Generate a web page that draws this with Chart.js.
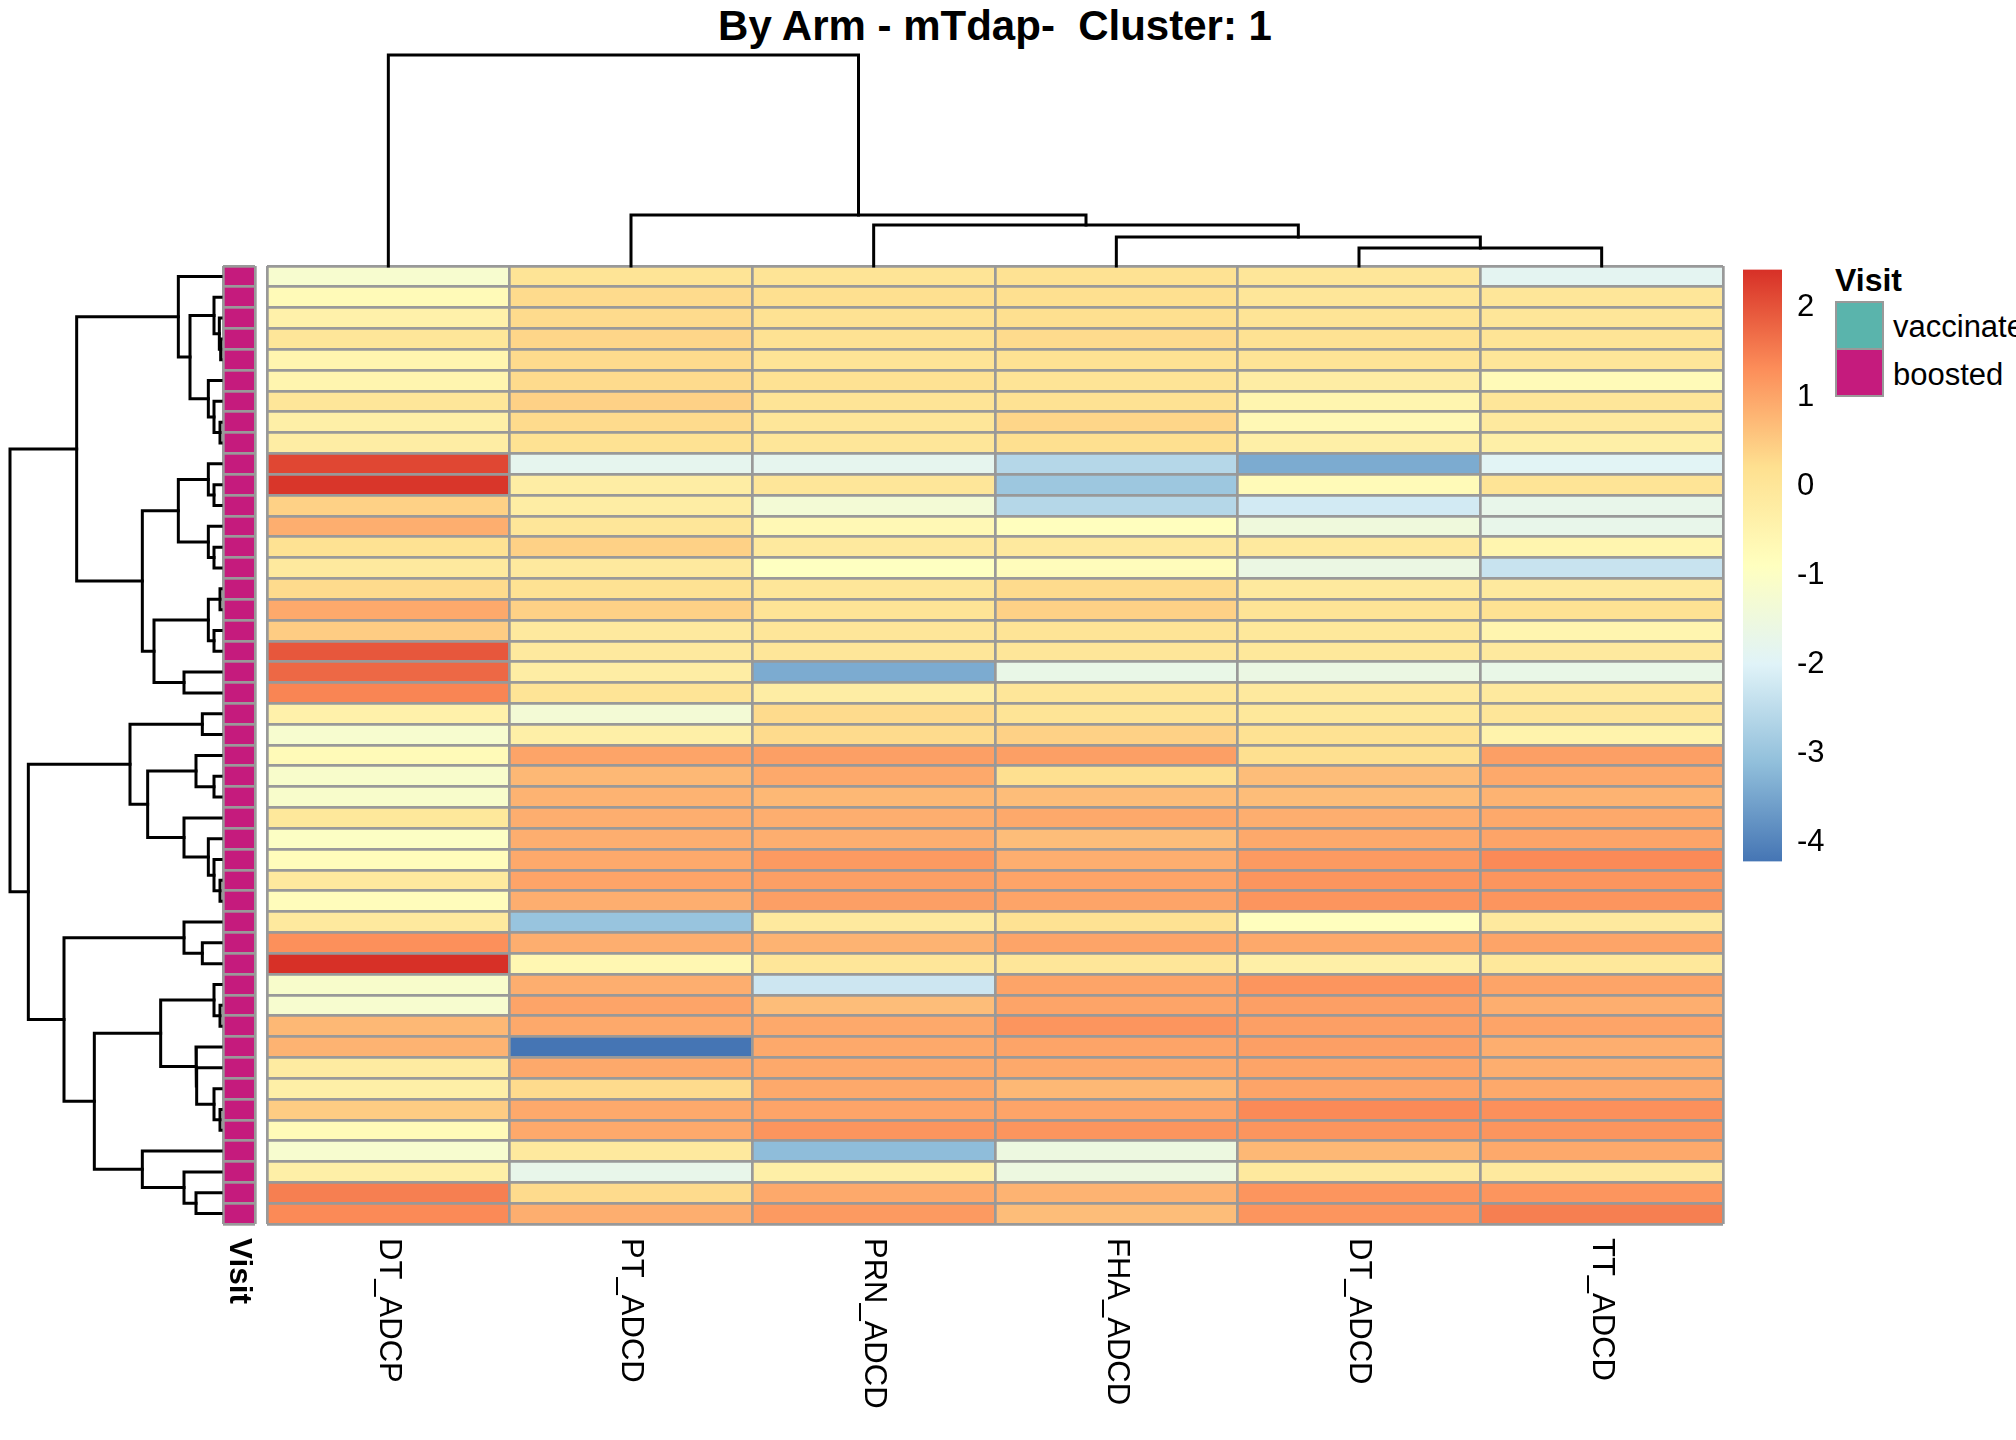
<!DOCTYPE html>
<html>
<head>
<meta charset="utf-8">
<script src="https://cdn.jsdelivr.net/npm/chart.js@4.4.1/dist/chart.umd.min.js"></script>
<style>
  html, body { margin:0; padding:0; background:#fff; width:2016px; height:1440px; overflow:hidden;
    font-family:"Liberation Sans", Arial, Helvetica, sans-serif; color:#000; }
  .box { position:absolute; }
  #title { position:absolute; left:267px; width:1456px; top:4px; text-align:center; font-weight:bold;
    font-size:42px; line-height:44px; white-space:pre; }
  #visitTitle { position:absolute; left:1835px; top:262px; font-weight:bold; font-size:32px; line-height:36px; }
  .key { position:absolute; left:1835px; width:49px; height:49px; box-sizing:border-box; border:2.7px solid #999; }
  .keyLab { position:absolute; left:1893px; font-size:31px; line-height:36px; white-space:nowrap; }
</style>
</head>
<body>
<div id="title">By Arm - mTdap-  Cluster: 1</div>
<div id="visitTitle">Visit</div>
<div class="key" id="keyVac" style="top:301px;"></div>
<div class="key" id="keyBoo" style="top:348px;"></div>
<div class="keyLab" style="top:309px;">vaccinated</div>
<div class="keyLab" style="top:357px;">boosted</div>
<script>
// ---------------- data ----------------
const columns = ['DT_ADCP', 'PT_ADCD', 'PRN_ADCD', 'FHA_ADCD', 'DT_ADCD', 'TT_ADCD'];

const DT_ADCP  = [-1.2,-0.7,-0.4,0.0,-0.55,-0.5,0.0,-0.3,-0.25, 2.15,2.3,0.4,0.85,0.15,-0.15,0.25,0.95,0.5,1.95,
                  1.7,1.4,-0.4,-1.2,-0.7,-1.1,-1.1,-0.05,-1.0,-0.8, -0.1,-0.8,-0.1,1.3,2.43,-1.15,-1.2,0.75,0.8,-0.2,
                  -0.35,0.45,-0.75,-1.2,-0.35,1.45,1.35];
const PT_ADCD  = [0.1,0.3,0.25,0.35,0.25,0.25,0.4,0.3,0.15, -1.8,-0.25,-0.25,0.0,0.4,-0.1,0.15,0.4,-0.15,-0.1,
                  -0.25,0.1,-1.35,-0.3,1.0,0.75,0.8,0.85,0.85,0.95, 1.0,0.85,-2.95,0.9,-0.6,0.85,1.0,0.95,-4.21,0.95,
                  0.25,0.95,0.95,-0.15,-1.7,0.25,0.9];
const PRN_ADCD = [0.1,0.2,0.15,0.15,0.1,0.15,0.1,0.0,0.0, -1.8,0.0,-1.3,-0.65,-0.1,-0.9,0.0,0.1,0.0,0.0,
                  -3.4,-0.25,0.25,0.3,1.1,0.95,0.75,0.9,0.9,1.15, 1.1,1.05,-0.15,0.8,0.0,-2.25,0.65,0.95,0.95,0.95,
                  0.95,1.0,1.2,-3.1,-0.35,0.95,1.15];
const FHA_ADCD = [0.15,0.2,0.2,0.3,0.15,0.1,0.15,0.35,0.2, -2.6,-2.9,-2.6,-0.85,-0.15,-0.8,0.25,0.4,0.1,0.0,
                  -1.65,0.0,0.05,0.4,1.05,0.2,0.7,0.95,0.7,0.9, 1.0,1.0,0.15,1.0,0.0,1.0,1.0,1.2,1.0,0.95,
                  0.75,1.0,1.2,-1.55,-1.5,0.8,0.7];
const DT_ADCD  = [0.0,0.0,0.05,0.15,0.05,-0.25,-0.55,-0.65,-0.3, -3.35,-0.7,-2.2,-1.45,-0.1,-1.6,-0.1,0.05,-0.05,-0.05,
                  -1.6,-0.15,-0.05,0.15,0.2,0.7,0.7,0.9,0.95,1.15, 1.2,1.2,-0.85,0.95,-0.3,1.2,1.1,1.1,1.1,1.0,
                  1.0,1.35,1.2,0.75,-0.15,1.2,1.2];
const TT_ADCD  = [-1.85,0.0,0.0,0.05,0.0,-0.7,0.0,-0.15,-0.3, -1.9,0.05,-1.7,-1.7,-0.55,-2.3,-0.1,0.15,-0.55,-0.1,
                  -1.65,-0.1,0.0,-0.45,1.1,0.95,0.8,0.95,1.0,1.35, 1.2,1.2,-0.15,1.0,-0.05,1.0,0.85,1.0,0.9,0.85,
                  0.95,1.25,1.2,0.95,-0.1,1.2,1.45];
const seriesValues = [DT_ADCP, PT_ADCD, PRN_ADCD, FHA_ADCD, DT_ADCD, TT_ADCD];

// Visit annotation (index into visitLevels)
const visitLevels = ['vaccinated', 'boosted'];
const visitColors = ['#5AB4AC', '#C51B7D'];
const visitCode = [1,1,1,1,1,1,1,1,1,1,1,1,1,1,1,1,1,1,1,1,1,1,1,1,1,1,1,1,1,1,1,1,1,1,1,1,1,1,1,1,1,1,1,1,1,1];
const rowIds = visitCode.map((_, i) => 'R' + (i + 1));

// Row dendrogram (R hclust style: negative = leaf in display order, positive = earlier merge)
const rowMerges = [
  [-4,-5,0.01],[-3,1,0.05],[-2,2,0.21],[-8,-9,0.03],[-7,4,0.21],[-6,5,0.38],[3,6,0.93],[-1,7,1.28],
  [-11,-12,0.21],[-10,9,0.38],[-14,-15,0.21],[-13,11,0.38],[10,12,1.28],
  [-16,-17,0.03],[-18,-19,0.21],[14,15,0.38],[-20,-21,1.11],[16,17,2.01],[13,18,2.36],[8,19,4.33],
  [-22,-23,0.56],[-25,-26,0.21],[-24,22,0.75],[-30,-31,0.03],[-29,24,0.21],[-28,25,0.38],[-27,26,1.11],
  [23,27,2.20],[21,28,2.73],
  [-33,-34,0.56],[-32,30,1.11],[-36,-37,0.03],[-35,32,0.21],[-41,-42,0.03],[-40,34,0.21],[-39,35,0.73],
  [-38,36,0.75],[33,37,1.81],[-45,-46,0.75],[-44,39,1.11],[-43,40,2.36],[38,41,3.80],[31,42,4.71],
  [29,43,5.78],[20,44,6.33]
];
// Column dendrogram
const colMerges = [[-5,-6,1.8],[-4,1,2.9],[-3,2,4.1],[-2,3,5.1],[-1,4,21.1]];

// Colour legend tick labels
const legendTicks = [-4, -3, -2, -1, 0, 1, 2];

// ---------------- styling ----------------
const FONT = '"Liberation Sans", Arial, Helvetica, sans-serif';
const paletteStops = ['#4575B4','#91BFDB','#E0F3F8','#FFFFBF','#FEE090','#FC8D59','#D73027'];
const CELL_BORDER = '#999999';
const CELL_BW = 2.7;

const allVals = seriesValues.flat();
const vMin = Math.min(...allVals), vMax = Math.max(...allVals);

function hex2rgb(h) { return [1,3,5].map(i => parseInt(h.slice(i, i + 2), 16)); }
const stopRGB = paletteStops.map(hex2rgb);
function ramp(t) {
  const s = t * (stopRGB.length - 1);
  const i = Math.min(Math.floor(s), stopRGB.length - 2);
  const f = s - i;
  const c = stopRGB[i].map((a, k) => Math.round(a + (stopRGB[i + 1][k] - a) * f));
  return 'rgb(' + c.join(',') + ')';
}
function colorFor(v) {
  // 100 colour bins between data min and max (like pheatmap)
  let b = Math.floor((v - vMin) / (vMax - vMin) * 100);
  b = Math.max(0, Math.min(99, b));
  return ramp(b / 99);
}

function mount(x, y, w, h, pad) {
  const d = document.createElement('div');
  d.className = 'box';
  d.style.left = (x - pad.left) + 'px';
  d.style.top = (y - pad.top) + 'px';
  d.style.width = (w + pad.left + pad.right) + 'px';
  d.style.height = (h + pad.top + pad.bottom) + 'px';
  const c = document.createElement('canvas');
  d.appendChild(c);
  document.body.appendChild(d);
  return c;
}

const baseOpts = {
  responsive: true, maintainAspectRatio: false, animation: false, events: [],
  plugins: { legend: { display: false }, tooltip: { enabled: false }, title: { display: false } }
};

const rotLabelPlugin = {
  id: 'rotLabels',
  afterDraw(chart, args, opts) {
    const { ctx, chartArea } = chart;
    const x = chart.scales.x;
    ctx.save();
    ctx.fillStyle = '#000';
    ctx.font = opts.font;
    ctx.textAlign = 'left';
    ctx.textBaseline = 'middle';
    opts.labels.forEach((lab, i) => {
      const px = x.getPixelForValue(i + 0.5);
      ctx.save();
      ctx.translate(px, chartArea.bottom + opts.gap);
      ctx.rotate(Math.PI / 2);
      ctx.fillText(lab, 0, 0);
      ctx.restore();
    });
    ctx.restore();
  }
};

function gridScales(nCols) {
  const grid = { z: 1, offset: true, color: CELL_BORDER, lineWidth: CELL_BW, drawTicks: false };
  return {
    x: { type: 'linear', stacked: true, min: 0, max: nCols,
         ticks: { display: false, stepSize: 1 },
         grid: Object.assign({}, grid, { offset: false }),
         border: { display: false } },
    y: { type: 'category', stacked: true,
         ticks: { display: false, autoSkip: false },
         grid: grid,
         border: { display: false } }
  };
}

// ---------------- heatmap ----------------
const hmPad = { left: 10, top: 10, right: 10, bottom: 216 };
new Chart(mount(267, 266, 1456, 958, hmPad), {
  type: 'bar',
  data: {
    labels: rowIds,
    datasets: columns.map((name, c) => ({
      label: name,
      data: seriesValues[c].map(() => 1),
      backgroundColor: seriesValues[c].map(colorFor),
      borderWidth: 0, categoryPercentage: 1, barPercentage: 1
    }))
  },
  options: Object.assign({}, baseOpts, {
    indexAxis: 'y',
    layout: { padding: hmPad },
    scales: gridScales(columns.length),
    plugins: Object.assign({}, baseOpts.plugins, {
      rotLabels: { labels: columns, font: '31px ' + FONT, gap: 14 }
    })
  }),
  plugins: [rotLabelPlugin]
});

// ---------------- annotation column ----------------
const anPad = { left: 6, top: 10, right: 6, bottom: 216 };
new Chart(mount(223, 266, 32, 958, anPad), {
  type: 'bar',
  data: {
    labels: rowIds,
    datasets: [{
      label: 'Visit',
      data: visitCode.map(() => 1),
      backgroundColor: visitCode.map(k => visitColors[k]),
      borderWidth: 0, categoryPercentage: 1, barPercentage: 1
    }]
  },
  options: Object.assign({}, baseOpts, {
    indexAxis: 'y',
    layout: { padding: anPad },
    scales: gridScales(1),
    plugins: Object.assign({}, baseOpts.plugins, {
      rotLabels: { labels: ['Visit'], font: 'bold 31.5px ' + FONT, gap: 14 }
    })
  }),
  plugins: [rotLabelPlugin]
});

// ---------------- dendrograms ----------------
function dendroSegments(merges) {
  const pos = [], ht = [];
  const P = r => r < 0 ? (-r - 0.5) : pos[r - 1];
  const H = r => r < 0 ? 0 : ht[r - 1];
  const segs = [];
  merges.forEach(([a, b, h], k) => {
    segs.push([[H(a), P(a)], [h, P(a)], [h, P(b)], [H(b), P(b)]]);
    pos[k] = (P(a) + P(b)) / 2;
    ht[k] = h;
  });
  return segs;
}
const lineDs = pts => ({
  data: pts, showLine: true, borderColor: '#000', borderWidth: 3, pointRadius: 0,
  tension: 0, fill: false, clip: false, borderJoinStyle: 'miter', borderCapStyle: 'square'
});

const rowRoot = rowMerges[rowMerges.length - 1][2];
const rdPad = { left: 6, top: 6, right: 2, bottom: 6 };
new Chart(mount(10, 266, 211, 958, rdPad), {
  type: 'scatter',
  data: { datasets: dendroSegments(rowMerges).map(s => lineDs(s.map(([h, p]) => ({ x: h, y: p })))) },
  options: Object.assign({}, baseOpts, {
    layout: { padding: rdPad },
    scales: {
      x: { type: 'linear', display: false, reverse: true, min: 0, max: rowRoot },
      y: { type: 'linear', display: false, reverse: true, min: 0, max: rowIds.length }
    }
  })
});

const colRoot = colMerges[colMerges.length - 1][2];
const cdPad = { left: 6, top: 6, right: 6, bottom: 2 };
new Chart(mount(267, 55, 1456, 211, cdPad), {
  type: 'scatter',
  data: { datasets: dendroSegments(colMerges).map(s => lineDs(s.map(([h, p]) => ({ x: p, y: h })))) },
  options: Object.assign({}, baseOpts, {
    layout: { padding: cdPad },
    scales: {
      x: { type: 'linear', display: false, min: 0, max: columns.length },
      y: { type: 'linear', display: false, min: 0, max: colRoot }
    }
  })
});

// ---------------- colour legend ----------------
const lgPad = { left: 4, top: 30, right: 4, bottom: 30 };
new Chart(mount(1743, 266, 39 + 60, 599, lgPad), {
  type: 'bar',
  data: {
    labels: [''],
    datasets: [{
      data: [[vMin, vMax]],
      borderWidth: 0, categoryPercentage: 1, barPercentage: 1,
      backgroundColor: (ctx) => {
        const a = ctx.chart.chartArea;
        if (!a) return paletteStops[3];
        const g = ctx.chart.ctx.createLinearGradient(0, a.bottom, 0, a.top);
        paletteStops.forEach((c, i) => g.addColorStop(i / (paletteStops.length - 1), c));
        return g;
      }
    }]
  },
  options: Object.assign({}, baseOpts, {
    layout: { padding: lgPad },
    scales: {
      x: { display: false },
      y: {
        position: 'right', min: vMin, max: vMax,
        grid: { display: false, drawTicks: false }, border: { display: false },
        ticks: { color: '#000', padding: 15, font: { size: 31, family: FONT } },
        afterBuildTicks: (s) => { s.ticks = legendTicks.map(v => ({ value: v })); },
        afterFit: (s) => { s.width = 60; }
      }
    }
  })
});

// Visit legend key colours
document.getElementById('keyVac').style.background = visitColors[0];
document.getElementById('keyBoo').style.background = visitColors[1];
</script>
</body>
</html>
